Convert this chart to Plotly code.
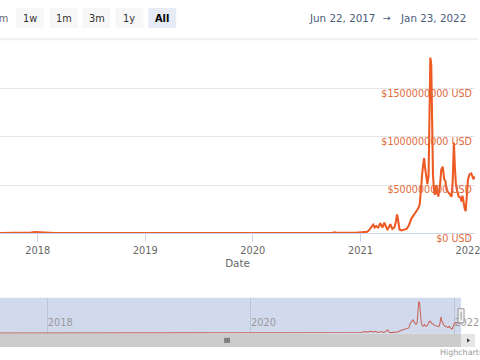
import plotly.graph_objects as go

# ---------------- data ----------------
dates = [
    "2017-06-22", "2017-09-01", "2017-11-20", "2017-12-10", "2017-12-20", "2018-01-05",
    "2018-01-20", "2018-03-01", "2018-06-01", "2018-09-01", "2018-12-01", "2018-12-15",
    "2018-12-28", "2019-04-01", "2019-08-01", "2019-12-01", "2020-04-01", "2020-08-01",
    "2020-09-25", "2020-10-05", "2020-10-15", "2020-12-15", "2021-01-10", "2021-01-24",
    "2021-02-01", "2021-02-08", "2021-02-13", "2021-02-18", "2021-02-23", "2021-03-02",
    "2021-03-09", "2021-03-16", "2021-03-23", "2021-03-28", "2021-04-02", "2021-04-07",
    "2021-04-12", "2021-04-19", "2021-04-26", "2021-05-01", "2021-05-05", "2021-05-08",
    "2021-05-13", "2021-05-20", "2021-05-28", "2021-06-06", "2021-06-14", "2021-06-22",
    "2021-07-01", "2021-07-09", "2021-07-16", "2021-07-21", "2021-07-26", "2021-07-30",
    "2021-08-02", "2021-08-05", "2021-08-08", "2021-08-12", "2021-08-16", "2021-08-20",
    "2021-08-23", "2021-08-26", "2021-08-29", "2021-09-01", "2021-09-04", "2021-09-08",
    "2021-09-12", "2021-09-15", "2021-09-19", "2021-09-22", "2021-09-28", "2021-10-02",
    "2021-10-07", "2021-10-12", "2021-10-16", "2021-10-20", "2021-10-27", "2021-11-02",
    "2021-11-06", "2021-11-10", "2021-11-14", "2021-11-17", "2021-11-21", "2021-11-25",
    "2021-11-30", "2021-12-06", "2021-12-10", "2021-12-13", "2021-12-17", "2021-12-21",
    "2021-12-24", "2021-12-27", "2022-01-01", "2022-01-06", "2022-01-12", "2022-01-17",
    "2022-01-20", "2022-01-23",
]
volume_usd = [
    0.5e6, 1e6, 2e6, 8e6, 14e6, 12e6,
    4e6, 2e6, 2e6, 2e6, 2e6, 8e6,
    3e6, 2e6, 2e6, 2e6, 2e6, 3e6,
    3e6, 10e6, 4e6, 5e6, 8e6, 15e6,
    40e6, 70e6, 90e6, 60e6, 75e6, 60e6,
    105e6, 60e6, 110e6, 70e6, 40e6, 60e6,
    95e6, 45e6, 60e6, 120e6, 195e6, 150e6,
    40e6, 30e6, 35e6, 45e6, 80e6, 150e6,
    190e6, 230e6, 260e6, 300e6, 540e6, 640e6,
    720e6, 780e6, 680e6, 560e6, 510e6, 600e6,
    1200e6, 1820e6, 1750e6, 1100e6, 600e6, 420e6,
    400e6, 500e6, 420e6, 380e6, 500e6, 660e6,
    690e6, 560e6, 540e6, 450e6, 420e6, 390e6,
    380e6, 550e6, 940e6, 700e6, 500e6, 440e6,
    380e6, 370e6, 330e6, 390e6, 300e6, 250e6,
    230e6, 360e6, 560e6, 610e6, 620e6, 580e6,
    560e6, 590e6,
]
y_ticks = [0, 5e8, 1e9, 1.5e9]
y_labels = ["$0 USD", "$500000000 USD", "$1000000000 USD", "$1500000000 USD"]
nav_ticks = ["2018-01-01", "2020-01-01", "2022-01-01"]
nav_labels = ["2018", "2020", "2022"]
buttons = ["1w", "1m", "3m", "1y", "All"]
date_from, date_to = "Jun 22, 2017", "Jan 23, 2022"

# design coordinates are in a 480x360 frame; the page is rendered slightly larger
S = 496 / 480
W, H = round(480 * S), round(360 * S)
def px(x): return x / 480
def py(y): return 1 - y / 360
def sz(v): return v * S

FONT = "DejaVu Sans"
LINE = "#ee5a24"

fig = go.Figure()
fig.add_trace(go.Scatter(x=dates, y=volume_usd, mode="lines",
                         line=dict(color=LINE, width=sz(2)), cliponaxis=False,
                         xaxis="x", yaxis="y", showlegend=False))
fig.add_trace(go.Scatter(x=dates, y=volume_usd, mode="lines",
                         line=dict(color="#c86458", width=sz(1)),
                         xaxis="x2", yaxis="y2", showlegend=False))

shapes = []
shapes.append(dict(type="line", xref="paper", yref="paper", x0=0, x1=1,
                   y0=py(39), y1=py(39), line=dict(color="#efefef", width=sz(2))))
btn_x = [16, 50, 83, 116, 149]
for i, b in enumerate(buttons):
    shapes.append(dict(type="rect", xref="paper", yref="paper",
                       x0=px(btn_x[i]), x1=px(btn_x[i] + 28), y0=py(28), y1=py(8),
                       fillcolor="#e6ebf5" if b == "All" else "#f7f7f7",
                       line=dict(width=0), layer="below"))
shapes.append(dict(type="rect", xref="x2 domain", yref="y2 domain", x0=0, x1=1, y0=0, y1=1,
                   fillcolor="#d1daed", line=dict(width=0), layer="below"))
shapes.append(dict(type="rect", xref="paper", yref="paper", x0=px(460), x1=px(466),
                   y0=py(321), y1=py(307), fillcolor="#f2f2f2",
                   line=dict(color="#999999", width=1)))
shapes.append(dict(type="line", xref="paper", yref="paper", x0=px(463), x1=px(463),
                   y0=py(318), y1=py(310), line=dict(color="#999999", width=1)))
shapes.append(dict(type="rect", xref="paper", yref="paper", x0=0, x1=px(463),
                   y0=py(345), y1=py(332), fillcolor="#cccccc", line=dict(width=0)))
shapes.append(dict(type="rect", xref="paper", yref="paper", x0=px(463), x1=px(477),
                   y0=py(345), y1=py(332), fillcolor="#e6e6e6", line=dict(width=0)))
shapes.append(dict(type="path", xref="paper", yref="paper",
                   path=f"M {px(469)} {py(336.5)} L {px(472)} {py(338.5)} L {px(469)} {py(340.5)} Z",
                   fillcolor="#333333", line=dict(width=0)))
for gx in (226, 228, 230):
    shapes.append(dict(type="line", xref="paper", yref="paper", x0=px(gx), x1=px(gx),
                       y0=py(341), y1=py(336), line=dict(color="#333333", width=1)))

annotations = []
annotations.append(dict(text="Zoom", xref="paper", yref="paper", x=px(10), y=py(18),
                        xanchor="right", yanchor="middle", showarrow=False,
                        font=dict(family=FONT, size=sz(9.5), color="#666666")))
for i, b in enumerate(buttons):
    annotations.append(dict(text=f"<b>{b}</b>" if b == "All" else b,
                            xref="paper", yref="paper", x=px(btn_x[i] + 14), y=py(18),
                            xanchor="center", yanchor="middle", showarrow=False,
                            font=dict(family=FONT, size=sz(9.5),
                                      color="#000000" if b == "All" else "#333333")))
annotations.append(dict(text=date_from, xref="paper", yref="paper", x=px(308), y=py(18),
                        xanchor="left", yanchor="middle", showarrow=False,
                        font=dict(family=FONT, size=sz(10), color="#4a5a78")))
annotations.append(dict(text="→", xref="paper", yref="paper", x=px(389), y=py(17),
                        xanchor="center", yanchor="middle", showarrow=False,
                        font=dict(family=FONT, size=sz(9), color="#4a5a78")))
annotations.append(dict(text=date_to, xref="paper", yref="paper", x=px(470), y=py(18),
                        xanchor="right", yanchor="middle", showarrow=False,
                        font=dict(family=FONT, size=sz(10), color="#4a5a78")))
annotations.append(dict(text="Highcharts", xref="paper", yref="paper", x=px(440), y=py(351),
                        xanchor="left", yanchor="middle", showarrow=False,
                        font=dict(family=FONT, size=sz(7.7), color="#999999")))

fig.update_layout(
    width=W, height=H, margin=dict(l=0, r=0, t=0, b=0),
    paper_bgcolor="white", plot_bgcolor="rgba(0,0,0,0)",
    font=dict(family=FONT),
    xaxis=dict(domain=[0, px(477)], anchor="y",
               range=["2017-08-25 12:00", "2022-01-24 16:00"],
               type="date", dtick="M12", tick0="2018-01-01", tickformat="%Y",
               showgrid=False, zeroline=False,
               showline=True, linecolor="#ccd6eb", linewidth=1,
               ticks="outside", ticklen=round(sz(8)), tickcolor="#ccd6eb", tickwidth=1,
               tickfont=dict(family=FONT, size=sz(9.5), color="#666666"),
               title=dict(text="Date", font=dict(family=FONT, size=sz(10), color="#666666"),
                          standoff=round(sz(4)))),
    yaxis=dict(domain=[py(232), py(40)], anchor="x", range=[0, 2e9],
               side="right", ticklabelposition="inside",
               tickvals=y_ticks, ticktext=y_labels, ticklabeloverflow="allow",
               ticklabelshift=round(sz(5)), ticklabelstandoff=0,
               showgrid=True, gridcolor="#e6e6e6", gridwidth=1, zeroline=False,
               showline=False,
               tickfont=dict(family=FONT, size=sz(9.3), color="#e06a3c")),
    xaxis2=dict(domain=[0, px(463)], anchor="y2",
                range=["2017-07-13", "2022-01-25"], type="date",
                tickvals=nav_ticks, ticktext=nav_labels,
                ticklabelposition="inside right", ticklabeloverflow="allow",
                showgrid=True, gridcolor="#bcc5d8", gridwidth=1,
                zeroline=False, showline=False, ticks="",
                tickfont=dict(family=FONT, size=sz(9.5), color="#999999")),
    yaxis2=dict(domain=[py(332), py(296)], anchor="x2", range=[-40e6, 2050e6],
                visible=False, showgrid=False, zeroline=False),
    shapes=shapes, annotations=annotations,
)

fig.write_html(
    "out.html",
    config={"displayModeBar": False, "staticPlot": True},
    post_script="}); document.body.style.margin='0'; document.body.style.overflow='hidden'; (function(){",
)
